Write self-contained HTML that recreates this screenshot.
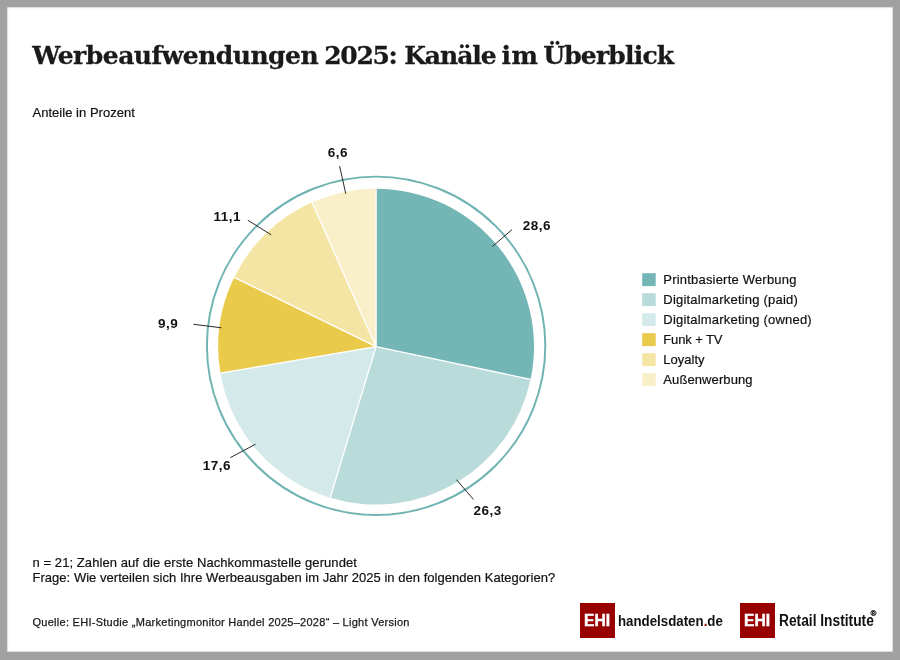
<!DOCTYPE html>
<html lang="de">
<head>
<meta charset="utf-8">
<title>Werbeaufwendungen 2025: Kanäle im Überblick</title>
<style>
html,body{margin:0;padding:0;}
body{width:900px;height:660px;background:#a1a1a1;position:relative;overflow:hidden;font-family:"Liberation Sans",sans-serif;color:#1a1a1a;}
.card{position:absolute;left:7px;top:7px;width:885.8px;height:645.3px;background:#fff;box-shadow:inset 0 0 1.2px 0.2px rgba(140,140,140,.9);}
.chart{position:absolute;left:0;top:0;}
h1 span{position:absolute;top:0;}
h1{position:absolute;margin:0;left:31px;top:38.2px;width:660px;height:36px;font-family:"DejaVu Serif","Liberation Serif",serif;font-weight:bold;font-size:25px;line-height:36px;letter-spacing:-0.85px;white-space:nowrap;color:#1a1a1a;-webkit-text-stroke:0.3px #1a1a1a;}
.sub{position:absolute;left:32.5px;top:105px;font-size:13px;line-height:15px;white-space:nowrap;color:#111;-webkit-text-stroke:0.2px #111;letter-spacing:0.03px;}
.vals text{font-family:"Liberation Sans",sans-serif;font-weight:bold;font-size:13.5px;fill:#111;letter-spacing:0.5px;}
.li{position:absolute;left:642.3px;height:13px;white-space:nowrap;}
.lt{position:absolute;left:21px;top:-1.1px;font-size:13px;line-height:15px;color:#111;-webkit-text-stroke:0.2px #111;}
.note{position:absolute;left:32.5px;top:554.5px;font-size:13px;line-height:15px;white-space:nowrap;margin:0;color:#111;-webkit-text-stroke:0.2px #111;}
.src{position:absolute;left:32.5px;top:615.5px;font-size:11px;line-height:13px;letter-spacing:0.27px;white-space:nowrap;margin:0;-webkit-text-stroke:0.25px #1a1a1a;}
.logo{position:absolute;top:603px;height:35px;}
.logo .box{position:absolute;left:0;top:0;width:35px;height:35px;background:#990000;}
.logo .ehi{position:absolute;left:4.4px;top:8.35px;color:#fff;font-weight:bold;font-size:15.9px;line-height:20px;transform:scaleX(0.985);-webkit-text-stroke:0.45px #fff;transform-origin:0 50%;}
.logo .name{position:absolute;left:38.4px;top:8.6px;font-size:16px;line-height:18px;white-space:nowrap;transform-origin:0 50%;color:#111;}
.l1{left:580px;}
.l2{left:740.1px;}
.l1 .name{font-weight:bold;font-size:15.5px;top:8.9px;transform:scaleX(0.857);}
.l2 .name{font-weight:bold;left:38.8px;top:9px;transform:scaleX(0.86);}
.dot{color:#990000;}
.reg{position:absolute;left:130.5px;top:5.9px;font-size:8px;line-height:9px;font-weight:bold;-webkit-text-stroke:0.3px #111;}
</style>
</head>
<body>
<div class="card"></div>
<svg class="chart" width="900" height="660" viewBox="0 0 900 660">
<circle cx="376.1" cy="345.8" r="169.2" fill="none" stroke="#6fb3b2" stroke-width="1.95"/>
<g><path d="M376.10,346.65 L376.10,188.75 A157.9,157.9 0 0 1 530.58,379.34 Z" fill="#73b6b5"/><path d="M376.10,346.65 L530.58,379.34 A157.9,157.9 0 0 1 330.20,497.73 Z" fill="#b9dbda"/><path d="M376.10,346.65 L330.20,497.73 A157.9,157.9 0 0 1 220.46,373.25 Z" fill="#d4e9ea"/><path d="M376.10,346.65 L220.46,373.25 A157.9,157.9 0 0 1 234.18,277.43 Z" fill="#e9ca4b"/><path d="M376.10,346.65 L234.18,277.43 A157.9,157.9 0 0 1 312.00,202.35 Z" fill="#f5e5a5"/><path d="M376.10,346.65 L312.00,202.35 A157.9,157.9 0 0 1 376.10,188.75 Z" fill="#f9efc9"/></g>
<g stroke="#ffffff" stroke-width="1.3"><line x1="376.10" y1="346.65" x2="376.10" y2="188.75"/><line x1="376.10" y1="346.65" x2="530.58" y2="379.34"/><line x1="376.10" y1="346.65" x2="330.20" y2="497.73"/><line x1="376.10" y1="346.65" x2="220.46" y2="373.25"/><line x1="376.10" y1="346.65" x2="234.18" y2="277.43"/><line x1="376.10" y1="346.65" x2="312.00" y2="202.35"/></g>
<g stroke="#2a2a2a" stroke-width="1"><line x1="492.2" y1="246.7" x2="512.0" y2="229.6"/><line x1="456.4" y1="479.6" x2="473.5" y2="499.5"/><line x1="230.4" y1="457.6" x2="255.6" y2="444.2"/><line x1="193.5" y1="324.3" x2="221.5" y2="327.8"/><line x1="247.8" y1="220.2" x2="271.3" y2="234.9"/><line x1="339.6" y1="166.0" x2="345.8" y2="193.8"/></g>
<g class="vals"><text x="522.7" y="229.6">28,6</text><text x="473.6" y="514.9">26,3</text><text x="202.7" y="470.0">17,6</text><text x="158.0" y="327.5">9,9</text><text x="213.6" y="220.9">11,1</text><text x="327.8" y="157.3">6,6</text></g>
<g><rect x="642.2" y="273.2" width="13.5" height="12.9" fill="#73b6b5"/><rect x="642.2" y="293.2" width="13.5" height="12.9" fill="#b9dbda"/><rect x="642.2" y="313.2" width="13.5" height="12.9" fill="#d4e9ea"/><rect x="642.2" y="333.2" width="13.5" height="12.9" fill="#e9ca4b"/><rect x="642.2" y="353.2" width="13.5" height="12.9" fill="#f5e5a5"/><rect x="642.2" y="373.2" width="13.5" height="12.9" fill="#f9efc9"/></g>
</svg>
<h1><span style="left:1.2px;letter-spacing:-0.51px">Werbeaufwendungen</span> <span style="left:293.2px;letter-spacing:-1.3px">2025:</span> <span style="left:373.2px;letter-spacing:-1.05px">Kanäle</span> <span style="left:470.6px;letter-spacing:0.35px">im</span> <span style="left:512.2px;letter-spacing:-0.8px">Überblick</span></h1>
<div class="sub">Anteile in Prozent</div>
<div class="legend">
<div class="li" style="top:273.3px"><span class="lt" style="letter-spacing:0.2px">Printbasierte Werbung</span></div>
<div class="li" style="top:293.3px"><span class="lt" style="letter-spacing:0.2px">Digitalmarketing (paid)</span></div>
<div class="li" style="top:313.3px"><span class="lt" style="letter-spacing:0.2px">Digitalmarketing (owned)</span></div>
<div class="li" style="top:333.3px"><span class="lt" style="letter-spacing:-0.12px">Funk + TV</span></div>
<div class="li" style="top:353.3px"><span class="lt" style="letter-spacing:0.0px">Loyalty</span></div>
<div class="li" style="top:373.3px"><span class="lt" style="letter-spacing:0.1px">Außenwerbung</span></div>
</div>
<p class="note"><span style="letter-spacing:0.075px">n = 21; Zahlen auf die erste Nachkommastelle gerundet</span><br><span style="letter-spacing:0.03px">Frage: Wie verteilen sich Ihre Werbeausgaben im Jahr 2025 in den folgenden Kategorien?</span></p>
<p class="src">Quelle: EHI-Studie „Marketingmonitor Handel 2025–2028“ – Light Version</p>
<div class="logo l1"><span class="box"></span><span class="ehi">EHI</span><span class="name">handelsdaten<span class="dot">.</span>de</span></div>
<div class="logo l2"><span class="box"></span><span class="ehi">EHI</span><span class="name">Retail Institute</span><span class="reg">®</span></div>
</body>
</html>
